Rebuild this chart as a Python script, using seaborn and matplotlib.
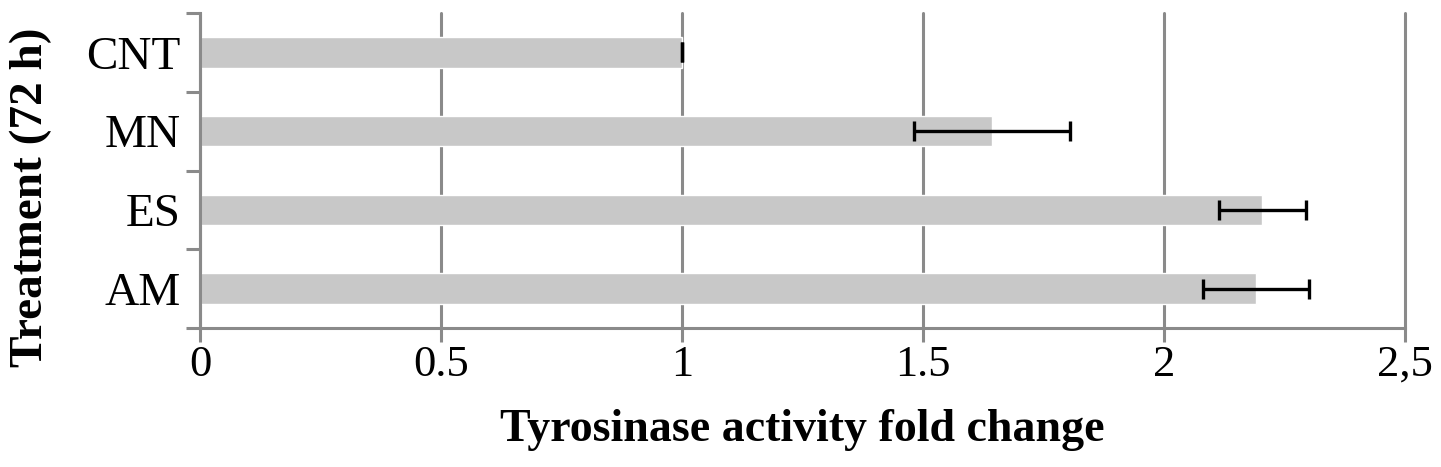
import matplotlib
matplotlib.use("Agg")
import matplotlib.pyplot as plt
import seaborn as sns
import numpy as np

sns.set_theme(style="white")
plt.rcParams["font.family"] = ["Liberation Serif", "DejaVu Serif"]
plt.rcParams["text.color"] = "black"
plt.rcParams["axes.labelcolor"] = "black"

# values
treatments = ["CNT", "MN", "ES", "AM"]
fold_change = [1.0, 1.643, 2.204, 2.191]
fold_err = [0.0, 0.161, 0.09, 0.11]
xtick_vals = [0, 0.5, 1, 1.5, 2, 2.5]
xtick_labels = ["0", "0.5", "1", "1.5", "2", "2,5"]

axis_gray = "#8a8a8a"
bar_gray = "#c8c8c8"

fig = plt.figure(figsize=(14.41, 4.67), dpi=100)
ax = fig.add_axes([200 / 1441, 1 - 328 / 467, 1205 / 1441, 315 / 467])

sns.barplot(x=fold_change, y=treatments, orient="h", color=bar_gray,
            width=0.39, errorbar=None, saturation=1, ax=ax, zorder=2)
ax.errorbar(fold_change, np.arange(len(treatments)), xerr=fold_err, fmt="none",
            ecolor="black", elinewidth=2.4, capsize=7.5, capthick=2.4, zorder=3)

ax.set_xlim(0, 2.5)
ax.set_ylim(3.5, -0.5)
ax.set_xticks(xtick_vals)
ax.set_xticklabels(xtick_labels)
ax.set_yticks([-0.5, 0.5, 1.5, 2.5, 3.5], minor=True)

ax.grid(axis="x", color=axis_gray, linewidth=2.2, zorder=0)
ax.set_axisbelow(True)
for gl in ax.get_xgridlines():
    gl.set_clip_on(False)

for side in ["top", "right"]:
    ax.spines[side].set_visible(False)
for side in ["left", "bottom"]:
    ax.spines[side].set_color(axis_gray)
    ax.spines[side].set_linewidth(2.2)

ax.tick_params(axis="x", which="major", direction="out", length=10, width=2.2,
               color=axis_gray, labelsize=32, pad=2, labelcolor="black", bottom=True)
ax.tick_params(axis="y", which="major", length=0, labelsize=34, pad=14,
               labelcolor="black")
ax.tick_params(axis="y", which="minor", direction="out", length=10, width=2.2,
               color=axis_gray, left=True)

ax.set_xlabel("Tyrosinase activity fold change", fontsize=33, fontweight="bold")
ax.set_ylabel("Treatment (72 h)", fontsize=34, fontweight="bold")
ax.xaxis.set_label_coords(0.5, -0.324)
ax.xaxis.label.set_va("center")
ax.yaxis.set_label_coords(-0.1405, 0.416)
ax.yaxis.label.set_va("center")

fig.savefig("out.png", dpi=100)
